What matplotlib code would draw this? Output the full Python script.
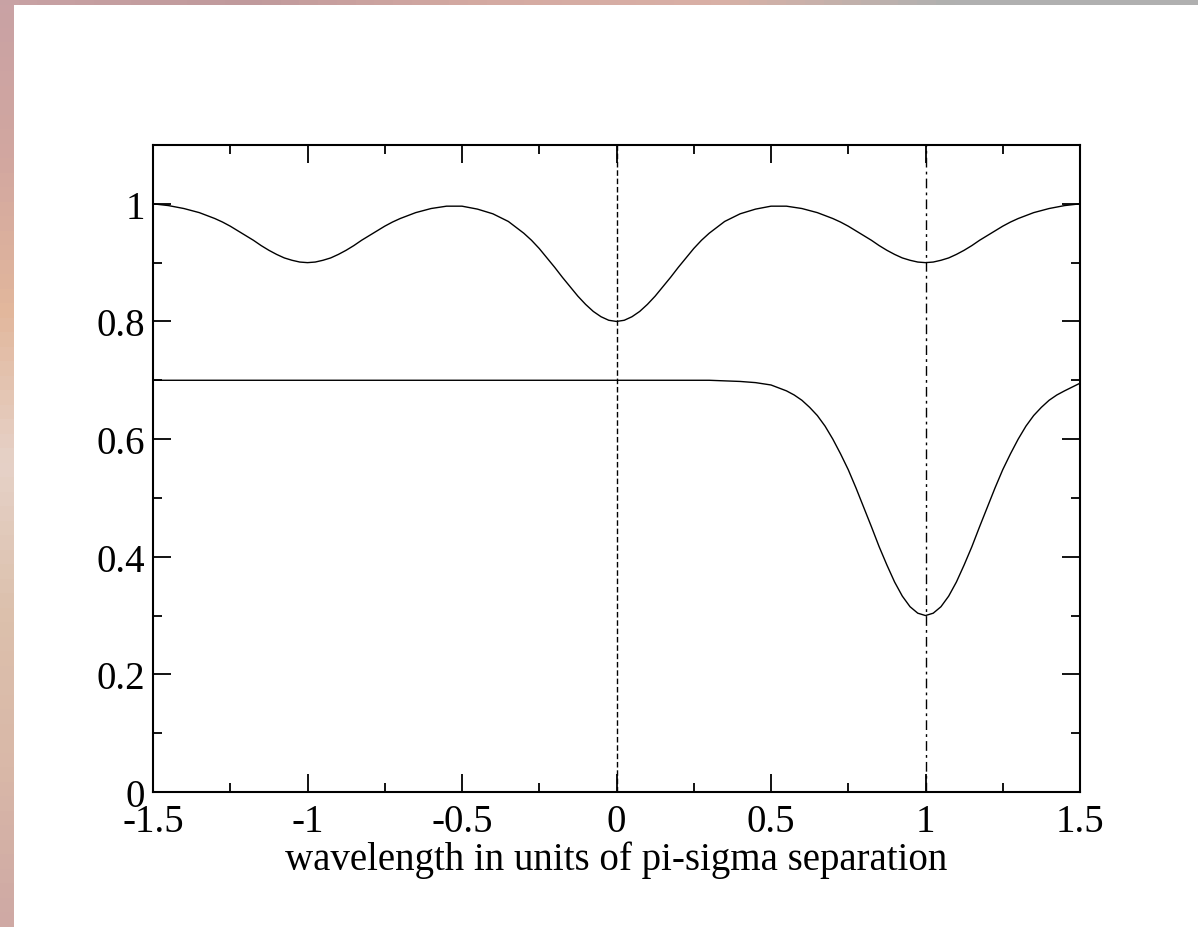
import matplotlib
matplotlib.use("Agg")
import matplotlib.pyplot as plt
from matplotlib.colors import LinearSegmentedColormap
from matplotlib.ticker import MultipleLocator
import numpy as np

# upper curve (two weak dips at +-1, deeper one at 0)
x_upper = [-1.500, -1.450, -1.400, -1.350, -1.300, -1.275, -1.250, -1.225, -1.200, -1.175,
           -1.150, -1.125, -1.100, -1.075, -1.050, -1.025, -1.000, -0.975, -0.950, -0.925,
           -0.900, -0.875, -0.850, -0.825, -0.800, -0.775, -0.750, -0.725, -0.700, -0.650,
           -0.600, -0.550, -0.500, -0.450, -0.400, -0.350, -0.300, -0.275, -0.250, -0.225,
           -0.200, -0.175, -0.150, -0.125, -0.100, -0.075, -0.050, -0.025, 0.000,
           0.025, 0.050, 0.075, 0.100, 0.125, 0.150, 0.175, 0.200, 0.225, 0.250,
           0.275, 0.300, 0.350, 0.400, 0.450, 0.500, 0.550, 0.600, 0.650, 0.700,
           0.725, 0.750, 0.775, 0.800, 0.825, 0.850, 0.875, 0.900, 0.925, 0.950,
           0.975, 1.000, 1.025, 1.050, 1.075, 1.100, 1.125, 1.150, 1.175, 1.200,
           1.225, 1.250, 1.275, 1.300, 1.350, 1.400, 1.450, 1.500]
y_upper = [1.000, 0.997, 0.992, 0.985, 0.975, 0.969, 0.962, 0.954, 0.946, 0.938,
           0.929, 0.921, 0.914, 0.908, 0.904, 0.901, 0.900, 0.901, 0.904, 0.908,
           0.914, 0.921, 0.929, 0.938, 0.946, 0.954, 0.962, 0.969, 0.975, 0.985,
           0.992, 0.996, 0.996, 0.991, 0.983, 0.970, 0.950, 0.938, 0.924, 0.908,
           0.892, 0.875, 0.859, 0.843, 0.829, 0.817, 0.808, 0.802, 0.800,
           0.802, 0.808, 0.817, 0.829, 0.843, 0.859, 0.875, 0.892, 0.908, 0.924,
           0.938, 0.950, 0.970, 0.983, 0.991, 0.996, 0.996, 0.992, 0.985, 0.975,
           0.969, 0.962, 0.954, 0.946, 0.938, 0.929, 0.921, 0.914, 0.908, 0.904,
           0.901, 0.900, 0.901, 0.904, 0.908, 0.914, 0.921, 0.929, 0.938, 0.946,
           0.954, 0.962, 0.969, 0.975, 0.985, 0.992, 0.997, 1.000]

# lower curve (flat at 0.7, single deep dip at 1)
x_lower = [-1.500, 0.300, 0.350, 0.400, 0.450, 0.500, 0.550, 0.575, 0.600, 0.625,
           0.650, 0.675, 0.700, 0.725, 0.750, 0.775, 0.800, 0.825, 0.850, 0.875,
           0.900, 0.925, 0.950, 0.975, 1.000, 1.025, 1.050, 1.075, 1.100, 1.125,
           1.150, 1.175, 1.200, 1.225, 1.250, 1.275, 1.300, 1.325, 1.350, 1.375,
           1.400, 1.425, 1.450, 1.500]
y_lower = [0.700, 0.700, 0.699, 0.698, 0.696, 0.692, 0.682, 0.675, 0.666, 0.654,
           0.640, 0.622, 0.600, 0.575, 0.548, 0.517, 0.484, 0.451, 0.417, 0.386,
           0.357, 0.333, 0.315, 0.304, 0.300, 0.304, 0.315, 0.333, 0.357, 0.386,
           0.417, 0.451, 0.484, 0.517, 0.548, 0.575, 0.600, 0.622, 0.640, 0.654,
           0.666, 0.675, 0.682, 0.695]

# vertical markers
x_pi = 0.0
x_sigma = 1.0

plt.rcParams['font.family'] = ['Liberation Serif', 'DejaVu Serif']

fig = plt.figure(figsize=(11.98, 9.28), dpi=100)
fig.patch.set_facecolor('white')

# slide background peeking out at the left and top edges
bg = fig.add_axes([0, 0, 1, 1], zorder=-5)
bg.axis('off')
side = LinearSegmentedColormap.from_list('side', ['#c9a2a4', '#d2a7a0', '#e2b79c',
                                                  '#e6d2c8', '#dcc0ac', '#d9b8a8', '#cfa9a4'])
bg.imshow(np.linspace(0, 1, 64).reshape(-1, 1), cmap=side, aspect='auto',
          extent=[0, 14 / 1198, 0, 1], transform=bg.transAxes)
top = LinearSegmentedColormap.from_list('top', ['#c8a2a4', '#c09a9c', '#d4aaa2',
                                                '#d9b0a6', '#b0b0b0', '#b0b0b0'])
bg.imshow(np.linspace(0, 1, 64).reshape(1, -1), cmap=top, aspect='auto',
          extent=[0, 1, 1 - 6 / 928, 1], transform=bg.transAxes)
bg.set_xlim(0, 1)
bg.set_ylim(0, 1)

ax = fig.add_axes([153 / 1198, 1 - 793 / 928, 927 / 1198, 647 / 928])

ax.plot(x_upper, y_upper, color='black', lw=1.0)
ax.plot(x_lower, y_lower, color='black', lw=1.0)
ax.axvline(x_pi, color='black', lw=1.0, linestyle=(0, (4, 2)))
ax.axvline(x_sigma, color='black', lw=1.0, linestyle=(0, (7, 3, 2, 3)))

ax.set_xlim(-1.5, 1.5)
ax.set_ylim(0, 1.1)

ax.xaxis.set_minor_locator(MultipleLocator(0.25))
ax.yaxis.set_minor_locator(MultipleLocator(0.1))
ax.set_xticks([-1.5, -1, -0.5, 0, 0.5, 1, 1.5])
ax.set_xticklabels(['-1.5', '-1', '-0.5', '0', '0.5', '1', '1.5'])
ax.set_yticks([0, 0.2, 0.4, 0.6, 0.8, 1.0])
ax.set_yticklabels(['0', '0.2', '0.4', '0.6', '0.8', '1'])

ax.tick_params(which='both', direction='in', top=True, right=True,
               width=1.3, colors='black', labelsize=28)
ax.tick_params(which='major', length=13)
ax.tick_params(which='minor', length=6.5)
ax.tick_params(axis='x', pad=8)
ax.tick_params(axis='y', pad=6)
for s in ax.spines.values():
    s.set_linewidth(1.5)

ax.set_xlabel('wavelength in units of pi-sigma separation', fontsize=28, labelpad=0)

fig.savefig('out.png', dpi=100, facecolor='white')
